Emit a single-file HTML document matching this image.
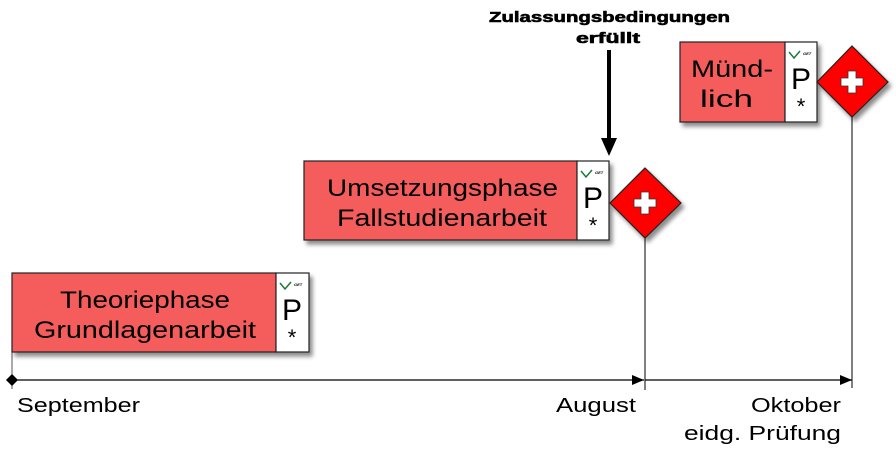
<!DOCTYPE html>
<html><head><meta charset="utf-8"><style>
html,body{margin:0;padding:0;background:#fff;}
svg{display:block;font-family:"Liberation Sans",sans-serif;}
</style></head><body>
<svg width="896" height="450" viewBox="0 0 896 450" xmlns="http://www.w3.org/2000/svg">
<defs>
<marker id="ah" markerWidth="12" markerHeight="10" refX="12" refY="5" orient="auto" markerUnits="userSpaceOnUse"><path d="M0,0 L12,5 L0,10 Z" fill="#000"/></marker>
<filter id="sh" x="-10%" y="-10%" width="130%" height="140%"><feDropShadow dx="3" dy="4" stdDeviation="2" flood-color="#000" flood-opacity="0.45"/></filter>
</defs>
<line x1="12" y1="352" x2="12" y2="389" stroke="#555" stroke-width="1"/>
<line x1="12" y1="380" x2="644" y2="380" stroke="#000" stroke-width="1.2" marker-end="url(#ah)"/>
<path d="M6,380 L12,374 L18,380 L12,386 Z" fill="#000"/>
<line x1="645" y1="238" x2="645" y2="390" stroke="#000" stroke-width="1"/>
<line x1="645" y1="380" x2="852" y2="380" stroke="#000" stroke-width="1.2" marker-end="url(#ah)"/>
<line x1="852" y1="115" x2="852" y2="388" stroke="#000" stroke-width="1"/>
<line x1="609" y1="50" x2="609" y2="140" stroke="#000" stroke-width="4"/>
<path d="M601,138 L617,138 L609,156 Z" fill="#000"/>
<text x="489" y="22" font-size="15" font-weight="bold" stroke="#000" stroke-width="0.6" textLength="241" lengthAdjust="spacingAndGlyphs">Zulassungsbedingungen</text>
<text x="576" y="43" font-size="15" font-weight="bold" stroke="#000" stroke-width="0.6" textLength="64" lengthAdjust="spacingAndGlyphs">erfüllt</text>
<g filter="url(#sh)">
<rect x="12" y="273" width="264" height="79" fill="#f55c5c" stroke="#222" stroke-width="1.2"/>
<rect x="276" y="273" width="33" height="79" fill="#fff" stroke="#222" stroke-width="1.2"/>
</g>
<text x="60" y="308" font-size="24" textLength="170" lengthAdjust="spacingAndGlyphs">Theoriephase</text>
<text x="34" y="338" font-size="24" textLength="222" lengthAdjust="spacingAndGlyphs">Grundlagenarbeit</text>
<g filter="url(#sh)">
<rect x="304" y="161" width="273" height="79" fill="#f55c5c" stroke="#222" stroke-width="1.2"/>
<rect x="577" y="161" width="32" height="79" fill="#fff" stroke="#222" stroke-width="1.2"/>
</g>
<text x="327" y="196" font-size="24" textLength="231" lengthAdjust="spacingAndGlyphs">Umsetzungsphase</text>
<text x="337" y="226" font-size="24" textLength="210" lengthAdjust="spacingAndGlyphs">Fallstudienarbeit</text>
<g filter="url(#sh)">
<rect x="680" y="42" width="105" height="80" fill="#f55c5c" stroke="#222" stroke-width="1.2"/>
<rect x="785" y="42" width="32" height="80" fill="#fff" stroke="#222" stroke-width="1.2"/>
</g>
<text x="691" y="77" font-size="24" textLength="82" lengthAdjust="spacingAndGlyphs">Münd-</text>
<text x="700" y="107" font-size="24" textLength="53" lengthAdjust="spacingAndGlyphs">lich</text>
<path d="M280,283 L285,289 L291,282" fill="none" stroke="#1a7a3a" stroke-width="1.5"/>
<text x="294" y="286" font-size="4" font-style="italic" font-weight="bold">GET</text>
<text x="292" y="320" font-size="30" text-anchor="middle">P</text>
<text x="292" y="345" font-size="22" text-anchor="middle">*</text>
<path d="M581,171 L586,177 L592,170" fill="none" stroke="#1a7a3a" stroke-width="1.5"/>
<text x="595" y="174" font-size="4" font-style="italic" font-weight="bold">GET</text>
<text x="593" y="208" font-size="30" text-anchor="middle">P</text>
<text x="593" y="233" font-size="22" text-anchor="middle">*</text>
<path d="M789,52 L794,58 L800,51" fill="none" stroke="#1a7a3a" stroke-width="1.5"/>
<text x="803" y="55" font-size="4" font-style="italic" font-weight="bold">GET</text>
<text x="801" y="89" font-size="30" text-anchor="middle">P</text>
<text x="801" y="114" font-size="22" text-anchor="middle">*</text>
<g filter="url(#sh)">
<path d="M645,168 L681,203 L645,238 L610,203 Z" fill="#f00" stroke="#222" stroke-width="1.2"/>
<path d="M852,46 L888,82 L852,117 L817,82 Z" fill="#f00" stroke="#222" stroke-width="1.2"/>
</g>
<path d="M641,192 h8 v7 h7 v8 h-7 v7 h-8 v-7 h-7 v-8 h7 Z" fill="#fff" stroke="#333" stroke-width="0.8"/>
<path d="M848,71 h8 v7 h7 v8 h-7 v7 h-8 v-7 h-7 v-8 h7 Z" fill="#fff" stroke="#333" stroke-width="0.8"/>
<text x="17" y="412" font-size="20" textLength="123" lengthAdjust="spacingAndGlyphs">September</text>
<text x="556" y="412" font-size="20" textLength="80" lengthAdjust="spacingAndGlyphs">August</text>
<text x="751" y="412" font-size="20" textLength="90" lengthAdjust="spacingAndGlyphs">Oktober</text>
<text x="684" y="440" font-size="20" textLength="157" lengthAdjust="spacingAndGlyphs">eidg. Prüfung</text>
</svg>
</body></html>
